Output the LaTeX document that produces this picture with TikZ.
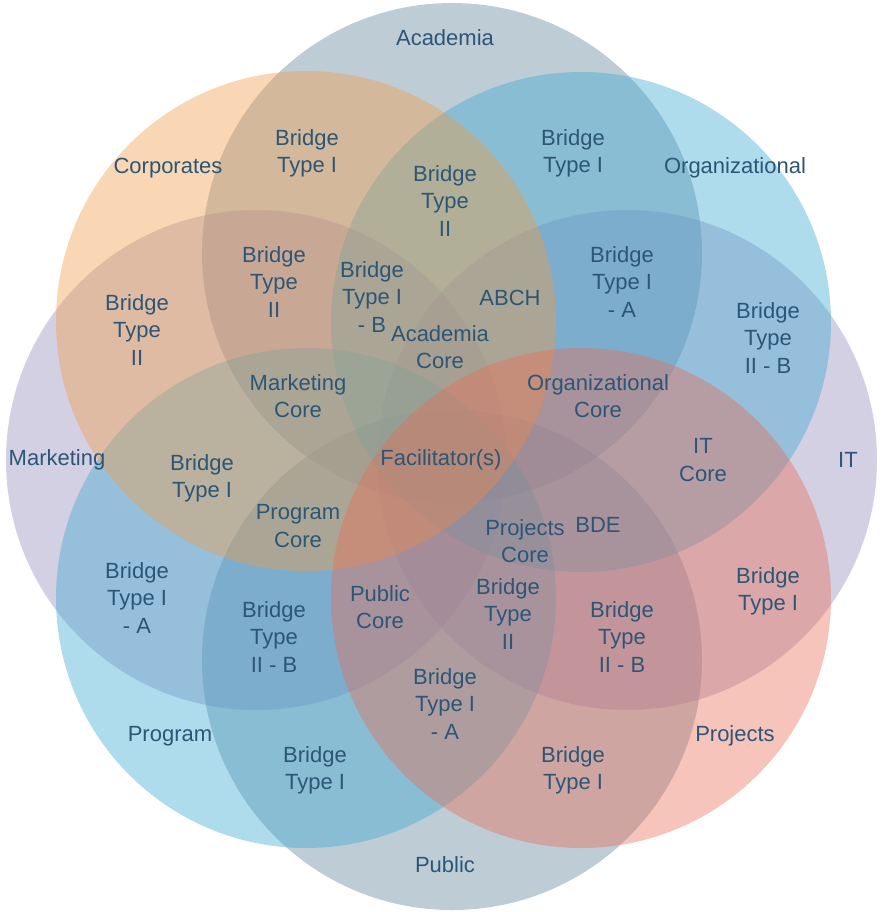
\documentclass[tikz,border=0pt]{standalone}
\usepackage{fontspec}
\setmainfont{Liberation Sans}
\usepackage{xcolor}

\definecolor{labelblue}{RGB}{44,86,118}
\definecolor{acadcol}{RGB}{93,127,153}
\definecolor{corpcol}{RGB}{243,155,67}
\definecolor{orgcol}{RGB}{55,167,207}
\definecolor{mktcol}{RGB}{147,137,187}
\definecolor{itcol}{RGB}{147,137,187}
\definecolor{progcol}{RGB}{55,167,207}
\definecolor{projcol}{RGB}{233,107,83}
\definecolor{pubcol}{RGB}{93,127,153}

\begin{document}
\begin{tikzpicture}[x=0.5pt,y=-0.5pt,
    ring/.style={fill=#1, fill opacity=0.4},
    lbl/.style={text=labelblue, align=center, inner sep=0pt,
        font=\fontsize{11}{13.6}\selectfont}]
            \useasboundingbox (0,0) rectangle (880,912);

            % the eight sets
            \fill[ring=acadcol] (452,253) circle [radius=125pt];
            \fill[ring=pubcol] (452,660) circle [radius=125pt];
            \fill[ring=mktcol] (256,460) circle [radius=125pt];
            \fill[ring=itcol] (627,460) circle [radius=125pt];
            \fill[ring=progcol] (306,598) circle [radius=125pt];
            \fill[ring=orgcol] (581,322) circle [radius=125pt];
            \fill[ring=corpcol] (306,321) circle [radius=125pt];
            \fill[ring=projcol] (581,598) circle [radius=125pt];

            \node[lbl] (academia) at (445,38) {Academia};
            \node[lbl] (corporates) at (168,168) {Corporates};
            \node[lbl] (organizational) at (735,168) {Organizational};
            \node[lbl] (marketing) at (57,460) {Marketing};
            \node[lbl] (it) at (848,460) {IT};
            \node[lbl] (program) at (170,736) {Program};
            \node[lbl] (projects) at (735,736) {Projects};
            \node[lbl] (public) at (445,865) {Public};

            \node[lbl] (ca1) at (307,153) {Bridge\\Type I};
            \node[lbl] (ac2) at (445,201) {Bridge\\Type\\II};
            \node[lbl] (ao1) at (573,153) {Bridge\\Type I};
            \node[lbl] (cm2) at (274,282) {Bridge\\Type\\II};
            \node[lbl] (cm1b) at (372,297) {Bridge\\Type I\\- B};
            \node[lbl] (abch) at (510,298) {ABCH};
            \node[lbl] (oi1a) at (622,282) {Bridge\\Type I\\- A};
            \node[lbl] (oi2b) at (768,338) {Bridge\\Type\\II - B};
            \node[lbl] (cm2l) at (137,330) {Bridge\\Type\\II};
            \node[lbl] (acore) at (440,347) {Academia\\Core};
            \node[lbl] (mcore) at (298,396) {Marketing\\Core};
            \node[lbl] (ocore) at (598,396) {Organizational\\Core};
            \node[lbl] (icore) at (703,460) {IT\\Core};
            \node[lbl] (facil) at (441,460) {Facilitator(s)};
            \node[lbl] (mp1) at (202,478) {Bridge\\Type I};
            \node[lbl] (pcore) at (298,526) {Program\\Core};
            \node[lbl] (jcore) at (525,541) {Projects\\Core};
            \node[lbl] (bde) at (598,525) {BDE};
            \node[lbl] (mp1a) at (137,598) {Bridge\\Type I\\- A};
            \node[lbl] (pp2b) at (274,637) {Bridge\\Type\\II - B};
            \node[lbl] (ucore) at (380,607) {Public\\Core};
            \node[lbl] (pj2) at (508,614) {Bridge\\Type\\II};
            \node[lbl] (ij2b) at (622,637) {Bridge\\Type\\II - B};
            \node[lbl] (ij1) at (768,591) {Bridge\\Type I};
            \node[lbl] (pu1a) at (445,704) {Bridge\\Type I\\- A};
            \node[lbl] (pu1) at (315,770) {Bridge\\Type I};
            \node[lbl] (ju1) at (573,770) {Bridge\\Type I};
        \end{tikzpicture}
\end{document}
